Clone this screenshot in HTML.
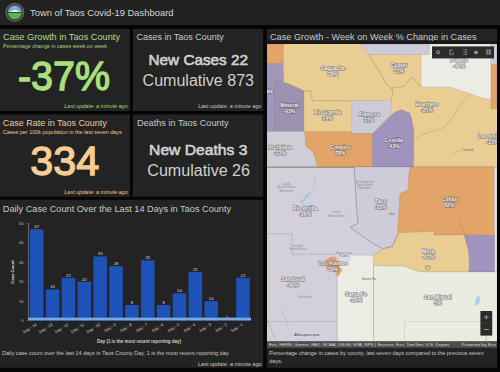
<!DOCTYPE html>
<html><head><meta charset="utf-8">
<style>
html,body{margin:0;padding:0;background:#000;width:500px;height:372px;overflow:hidden}
svg{display:block}
text{font-family:"Liberation Sans",sans-serif}
</style></head><body>
<svg width="500" height="372" viewBox="0 0 500 372">
<rect x="0" y="0" width="500" height="372" fill="#050505"/>
<!-- header -->
<rect x="0" y="0" width="500" height="25" fill="#222222"/>
<circle cx="14.8" cy="12.4" r="9.4" fill="#7e786c"/>
<circle cx="14.8" cy="12.4" r="8.7" fill="#4a4640"/>
<circle cx="14.8" cy="12.4" r="7.3" fill="#2a3a6a"/>
<clipPath id="lg"><circle cx="14.8" cy="12.4" r="6.8"/></clipPath>
<g clip-path="url(#lg)">
<rect x="6" y="4" width="18" height="9" fill="#78a6dc"/>
<path d="M9.5,12.2 L12.5,10.3 L14.8,9.5 L17.1,10.3 L20.1,12.2 Z" fill="#e6ecef"/>
<rect x="6" y="12" width="18" height="1" fill="#2e4a34"/>
<rect x="6" y="13" width="18" height="8" fill="#58b34c"/>
<circle cx="14.8" cy="7.4" r="0.9" fill="#9fd27a"/>
</g>
<text x="30" y="15.7" font-size="9.8" fill="#d4d4d4" textLength="143.5" lengthAdjust="spacingAndGlyphs">Town of Taos Covid-19 Dashboard</text>

<!-- panels -->
<rect x="0" y="29" width="130" height="82" fill="#232323"/>
<rect x="132.8" y="29" width="130.4" height="82" fill="#232323"/>
<rect x="0" y="114.4" width="130" height="82.4" fill="#232323"/>
<rect x="132.8" y="114.4" width="130.4" height="82.4" fill="#232323"/>
<rect x="0" y="199.8" width="263.2" height="168" fill="#232323"/>
<rect x="266.8" y="29" width="230.2" height="338.8" fill="#232323"/>

<!-- panel A -->
<text x="3" y="40" font-size="9.8" fill="#b0d994" textLength="117" lengthAdjust="spacingAndGlyphs">Case Growth in Taos County</text>
<text x="3" y="47.8" font-size="5.6" fill="#a5d97c" textLength="104" lengthAdjust="spacingAndGlyphs">Percentage change in cases week on week</text>
<text x="18" y="89.9" font-size="40" fill="#a8e07c" stroke="#a8e07c" stroke-width="1.3" textLength="92" lengthAdjust="spacingAndGlyphs">-37%</text>
<text x="64.3" y="108" font-size="5.5" font-style="italic" fill="#a5d97c" textLength="63.4" lengthAdjust="spacingAndGlyphs">Last update: a minute ago</text>

<!-- panel B -->
<text x="136.4" y="40" font-size="9.7" fill="#c8c8c8" textLength="87.4" lengthAdjust="spacingAndGlyphs">Cases in Taos County</text>
<text x="148.6" y="65" font-size="15.2" fill="#d2d2d2" stroke="#d2d2d2" stroke-width="0.6" textLength="99.3" lengthAdjust="spacingAndGlyphs">New Cases 22</text>
<text x="142.6" y="86" font-size="16" fill="#cfcfcf" textLength="111.4" lengthAdjust="spacingAndGlyphs">Cumulative 873</text>
<text x="198.3" y="107.5" font-size="5.5" fill="#c8c8c8" textLength="63" lengthAdjust="spacingAndGlyphs">Last update: a minute ago</text>

<!-- panel C -->
<text x="2.8" y="126.1" font-size="9.7" fill="#f4c993" textLength="104" lengthAdjust="spacingAndGlyphs">Case Rate in Taos County</text>
<text x="2.8" y="134" font-size="5.6" fill="#f5c58c" textLength="119" lengthAdjust="spacingAndGlyphs">Cases per 100k population in the last seven days</text>
<text x="30.2" y="175.3" font-size="41.5" fill="#f7cd93" stroke="#f7cd93" stroke-width="1.3" textLength="69" lengthAdjust="spacingAndGlyphs">334</text>
<text x="64.3" y="193.7" font-size="5.5" font-style="italic" fill="#f5c58c" textLength="63.4" lengthAdjust="spacingAndGlyphs">Last update: a minute ago</text>

<!-- panel D -->
<text x="136.9" y="125.9" font-size="9.7" fill="#c8c8c8" textLength="91.8" lengthAdjust="spacingAndGlyphs">Deaths in Taos County</text>
<text x="149.1" y="155.1" font-size="15.2" fill="#d2d2d2" stroke="#d2d2d2" stroke-width="0.6" textLength="98.3" lengthAdjust="spacingAndGlyphs">New Deaths 3</text>
<text x="147.3" y="176.2" font-size="16" fill="#cfcfcf" textLength="102.7" lengthAdjust="spacingAndGlyphs">Cumulative 26</text>

<!-- chart panel -->
<text x="2.8" y="211.8" font-size="9.7" fill="#c8c8c8" textLength="228.3" lengthAdjust="spacingAndGlyphs">Daily Case Count Over the Last 14 Days in Taos County</text>
<g id="chart"><g stroke="#282828" stroke-width="0.6">
<line x1="29.0" y1="223.5" x2="29.0" y2="317"/>
<line x1="44.9" y1="223.5" x2="44.9" y2="317"/>
<line x1="60.7" y1="223.5" x2="60.7" y2="317"/>
<line x1="76.6" y1="223.5" x2="76.6" y2="317"/>
<line x1="92.4" y1="223.5" x2="92.4" y2="317"/>
<line x1="108.3" y1="223.5" x2="108.3" y2="317"/>
<line x1="124.2" y1="223.5" x2="124.2" y2="317"/>
<line x1="140.0" y1="223.5" x2="140.0" y2="317"/>
<line x1="155.9" y1="223.5" x2="155.9" y2="317"/>
<line x1="171.7" y1="223.5" x2="171.7" y2="317"/>
<line x1="187.6" y1="223.5" x2="187.6" y2="317"/>
<line x1="203.5" y1="223.5" x2="203.5" y2="317"/>
<line x1="219.3" y1="223.5" x2="219.3" y2="317"/>
<line x1="235.2" y1="223.5" x2="235.2" y2="317"/>
<line x1="251.0" y1="223.5" x2="251.0" y2="317"/>
</g>
<rect x="30.00" y="229.32" width="13.5" height="91.18" fill="#1d53b8"/>
<text x="36.75" y="228.12" font-size="4.3" fill="#dddddd" text-anchor="middle">47</text>
<text x="0" y="0" font-size="4" fill="#d4d4d4" text-anchor="end" transform="translate(36.95,325.30) rotate(-33)">Day - 14</text>
<rect x="45.86" y="289.46" width="13.5" height="31.04" fill="#1d53b8"/>
<text x="52.61" y="288.26" font-size="4.3" fill="#dddddd" text-anchor="middle">16</text>
<text x="0" y="0" font-size="4" fill="#d4d4d4" text-anchor="end" transform="translate(52.81,325.30) rotate(-33)">Day - 13</text>
<rect x="61.72" y="277.82" width="13.5" height="42.68" fill="#1d53b8"/>
<text x="68.47" y="276.62" font-size="4.3" fill="#dddddd" text-anchor="middle">22</text>
<text x="0" y="0" font-size="4" fill="#d4d4d4" text-anchor="end" transform="translate(68.67,325.30) rotate(-33)">Day - 12</text>
<rect x="77.58" y="281.70" width="13.5" height="38.80" fill="#1d53b8"/>
<text x="84.33" y="280.50" font-size="4.3" fill="#dddddd" text-anchor="middle">20</text>
<text x="0" y="0" font-size="4" fill="#d4d4d4" text-anchor="end" transform="translate(84.53,325.30) rotate(-33)">Day - 11</text>
<rect x="93.44" y="256.48" width="13.5" height="64.02" fill="#1d53b8"/>
<text x="100.19" y="255.28" font-size="4.3" fill="#dddddd" text-anchor="middle">33</text>
<text x="0" y="0" font-size="4" fill="#d4d4d4" text-anchor="end" transform="translate(100.39,325.30) rotate(-33)">Day - 10</text>
<rect x="109.30" y="266.18" width="13.5" height="54.32" fill="#1d53b8"/>
<text x="116.05" y="264.98" font-size="4.3" fill="#dddddd" text-anchor="middle">28</text>
<text x="0" y="0" font-size="4" fill="#d4d4d4" text-anchor="end" transform="translate(116.25,325.30) rotate(-33)">Day - 9</text>
<rect x="125.16" y="304.98" width="13.5" height="15.52" fill="#1d53b8"/>
<text x="131.91" y="303.78" font-size="4.3" fill="#dddddd" text-anchor="middle">8</text>
<text x="0" y="0" font-size="4" fill="#d4d4d4" text-anchor="end" transform="translate(132.11,325.30) rotate(-33)">Day - 8</text>
<rect x="141.02" y="260.36" width="13.5" height="60.14" fill="#1d53b8"/>
<text x="147.77" y="259.16" font-size="4.3" fill="#dddddd" text-anchor="middle">31</text>
<text x="0" y="0" font-size="4" fill="#d4d4d4" text-anchor="end" transform="translate(147.97,325.30) rotate(-33)">Day - 7</text>
<rect x="156.88" y="304.98" width="13.5" height="15.52" fill="#1d53b8"/>
<text x="163.63" y="303.78" font-size="4.3" fill="#dddddd" text-anchor="middle">8</text>
<text x="0" y="0" font-size="4" fill="#d4d4d4" text-anchor="end" transform="translate(163.83,325.30) rotate(-33)">Day - 6</text>
<rect x="172.74" y="293.34" width="13.5" height="27.16" fill="#1d53b8"/>
<text x="179.49" y="292.14" font-size="4.3" fill="#dddddd" text-anchor="middle">14</text>
<text x="0" y="0" font-size="4" fill="#d4d4d4" text-anchor="end" transform="translate(179.69,325.30) rotate(-33)">Day - 5</text>
<rect x="188.60" y="272.00" width="13.5" height="48.50" fill="#1d53b8"/>
<text x="195.35" y="270.80" font-size="4.3" fill="#dddddd" text-anchor="middle">25</text>
<text x="0" y="0" font-size="4" fill="#d4d4d4" text-anchor="end" transform="translate(195.55,325.30) rotate(-33)">Day - 4</text>
<rect x="204.46" y="301.10" width="13.5" height="19.40" fill="#1d53b8"/>
<text x="211.21" y="299.90" font-size="4.3" fill="#dddddd" text-anchor="middle">10</text>
<text x="0" y="0" font-size="4" fill="#d4d4d4" text-anchor="end" transform="translate(211.41,325.30) rotate(-33)">Day - 3</text>
<text x="227.07" y="319.30" font-size="4.3" fill="#dddddd" text-anchor="middle">0</text>
<text x="0" y="0" font-size="4" fill="#d4d4d4" text-anchor="end" transform="translate(227.27,325.30) rotate(-33)">Day - 2</text>
<rect x="236.18" y="277.82" width="13.5" height="42.68" fill="#1d53b8"/>
<text x="242.93" y="276.62" font-size="4.3" fill="#dddddd" text-anchor="middle">22</text>
<text x="0" y="0" font-size="4" fill="#d4d4d4" text-anchor="end" transform="translate(243.13,325.30) rotate(-33)">Day - 1</text>
<rect x="28" y="317.6" width="223" height="2.9" fill="#6d9be0"/>
<line x1="28" y1="319" x2="251" y2="319" stroke="#b7cdf0" stroke-width="1" stroke-dasharray="1 1.2"/>
<line x1="28.6" y1="223.3" x2="28.6" y2="320.5" stroke="#a09c90" stroke-width="0.6"/>
<text x="23.5" y="321.90" font-size="4" fill="#c4c4c4" text-anchor="end">0</text>
<line x1="25.8" y1="320.50" x2="28.6" y2="320.50" stroke="#6a6862" stroke-width="0.5"/>
<text x="23.5" y="302.50" font-size="4" fill="#c4c4c4" text-anchor="end">10</text>
<line x1="25.8" y1="301.10" x2="28.6" y2="301.10" stroke="#6a6862" stroke-width="0.5"/>
<text x="23.5" y="283.10" font-size="4" fill="#c4c4c4" text-anchor="end">20</text>
<line x1="25.8" y1="281.70" x2="28.6" y2="281.70" stroke="#6a6862" stroke-width="0.5"/>
<text x="23.5" y="263.70" font-size="4" fill="#c4c4c4" text-anchor="end">30</text>
<line x1="25.8" y1="262.30" x2="28.6" y2="262.30" stroke="#6a6862" stroke-width="0.5"/>
<text x="23.5" y="244.30" font-size="4" fill="#c4c4c4" text-anchor="end">40</text>
<line x1="25.8" y1="242.90" x2="28.6" y2="242.90" stroke="#6a6862" stroke-width="0.5"/>
<text x="23.5" y="224.90" font-size="4" fill="#c4c4c4" text-anchor="end">50</text>
<line x1="25.8" y1="223.50" x2="28.6" y2="223.50" stroke="#6a6862" stroke-width="0.5"/>
<text x="0" y="0" font-size="4.2" font-weight="bold" fill="#e0e0e0" text-anchor="middle" transform="translate(14.3,272) rotate(-90)">Case Count</text>
<text x="97" y="343" font-size="4.46" font-weight="bold" fill="#d0d0d0" textLength="84" lengthAdjust="spacingAndGlyphs">Day (1 is the most recent reporting day)</text></g>
<text x="2" y="354.5" font-size="5.5" fill="#c8c8c8" textLength="227.6" lengthAdjust="spacingAndGlyphs">Daily case count over the last 14 days in Taos County Day, 1 is the most recent reporting day.</text>
<text x="198" y="365.9" font-size="5.5" fill="#c8c8c8" textLength="63.8" lengthAdjust="spacingAndGlyphs">Last update: a minute ago</text>

<!-- map panel -->
<text x="270" y="40" font-size="9.7" fill="#c8c8c8" textLength="206.5" lengthAdjust="spacingAndGlyphs">Case Growth - Week on Week % Change in Cases</text>
<rect x="266.8" y="41" width="230.2" height="3" fill="#181818"/>
<clipPath id="mc"><rect x="267" y="44" width="230" height="297.5"/></clipPath>
<g clip-path="url(#mc)">
<rect x="267" y="44" width="230" height="298" fill="#d4d0db"/>
<rect x="267" y="44" width="230" height="123.4" fill="#e9cd92"/>
<polygon points="267,44 283.3,44 283.3,63.5 267,63.5" fill="#e3a468" stroke="#6e6866" stroke-width="0.35" stroke-opacity="0.45"/>
<polygon points="267,63.5 283.3,63.5 283.7,81.5 274,82.3 274,131.5 267,131.5" fill="#a398bb" stroke="#6e6866" stroke-width="0.35" stroke-opacity="0.45"/>
<polygon points="274,82.3 279.7,80.6 283.7,82.3 291,84.7 298.2,87.9 303.9,91.1 303.9,131.5 274,131.5" fill="#9a92b0" stroke="#6e6866" stroke-width="0.35" stroke-opacity="0.45"/>
<polygon points="360.7,44 429.2,44 429.2,54.5 368.8,54.5" fill="#cdcbd8" stroke="#6e6866" stroke-width="0.35" stroke-opacity="0.45"/>
<polygon points="429.2,44 491,44 491,100 478.2,96.8 469.6,93.6 460,90.4 450.3,87.2 427.7,87.2 421.1,86.8 421.1,54.5 429.2,54.5" fill="#ecece4" stroke="#6e6866" stroke-width="0.35" stroke-opacity="0.45"/>
<polygon points="491,44 497,44 497,64.6 491,64.6" fill="#cdcbd8" stroke="#6e6866" stroke-width="0.35" stroke-opacity="0.45"/>
<polygon points="491,64.6 497,64.6 497,108.7 491,108.7" fill="#e3a468" stroke="#6e6866" stroke-width="0.35" stroke-opacity="0.45"/>
<polygon points="351.8,100.5 391,100.5 391,114 372.8,133.5 351.8,133.5" fill="#cdcbd8" stroke="#6e6866" stroke-width="0.35" stroke-opacity="0.45"/>
<polygon points="267,131.5 305.9,131.5 305.9,146 313.4,152.4 317.7,166.7 267,166.7" fill="#cfced8" stroke="#6e6866" stroke-width="0.35" stroke-opacity="0.45"/>
<polygon points="304.5,131.5 351.8,131.5 351.8,133.5 372.8,133.5 372.3,166.7 317.7,166.7 313.4,152.4 305.9,146 304.5,131.5" fill="#e3a468" stroke="#6e6866" stroke-width="0.35" stroke-opacity="0.45"/>
<polygon points="372.3,134 392.3,114.2 396.3,111.5 401.7,109.5 405.8,111.5 409.8,112.9 411.8,119.6 413.8,130.4 413.6,167 372.3,167" fill="#a093bd" stroke="#6e6866" stroke-width="0.35" stroke-opacity="0.45"/>
<polyline points="368.8,54.5 378.7,70 386,84 391.6,88.2 393,93 391,100.5" fill="none" stroke="#7a7060" stroke-width="0.45" stroke-opacity="0.8"/>
<polyline points="391.6,88.2 404.5,86 409,80 412.3,77 416.3,82 421.1,86.8" fill="none" stroke="#7a7060" stroke-width="0.45" stroke-opacity="0.8"/>
<polyline points="303.9,91.1 310.3,91.1 312.7,100.8 351.8,100.8" fill="none" stroke="#7a7060" stroke-width="0.45" stroke-opacity="0.8"/>
<polyline points="267,167.3 497,167.3" fill="none" stroke="#6e6c6c" stroke-width="1.1" stroke-opacity="0.75"/>
<polyline points="469.6,93.6 460,105 452.4,118 443.8,127.7 426.6,133 418,137.4 414,139" fill="none" stroke="#8a7050" stroke-width="0.4" stroke-opacity="0.6"/>
<polyline points="450,155.6 461,150" fill="none" stroke="#8a7050" stroke-width="0.4" stroke-opacity="0.6"/>
<polygon points="354.2,167 410.2,167 410.2,168.4 408.8,175.2 408.1,190 403.4,192 400,194 399.4,205 398.5,215 398.4,233.2 392.4,246.4 382.8,248.8 372,242.8 360,234.4 350.4,227.2 358.2,223.2 356.9,213.8 355.5,189.6" fill="#cfccd9" stroke="#6e6866" stroke-width="0.35" stroke-opacity="0.45"/>
<polygon points="410.2,167 494.5,167 494.5,235.5 464.2,235 434,235 434,231.6 397.6,232.7 398.5,215 399.4,205 400,194 403.4,192 408.1,190 408.8,175.2 410.2,168.4" fill="#e3a468" stroke="#6e6866" stroke-width="0.35" stroke-opacity="0.45"/>
<polygon points="398.4,232.7 434,231.6 434,235 464.2,235 468.5,250 469.6,265 468.5,272 436,272 420,272 404,266.2 373.6,265.6 373.4,255.2 382.8,248.8 392.4,246.4" fill="#e9cd92" stroke="#6e6866" stroke-width="0.35" stroke-opacity="0.45"/>
<polygon points="494.5,167 497,167 497,272 494.5,272" fill="#e4e4e2" stroke="#6e6866" stroke-width="0.35" stroke-opacity="0.45"/>
<polygon points="464.2,235 494.5,235.5 494.5,272 468.5,272 469.6,265 468.5,250" fill="#a093bd" stroke="#6e6866" stroke-width="0.35" stroke-opacity="0.45"/>
<polygon points="337.2,255 373.4,255.2 373.6,265.6 373.6,341.5 337.2,341.5" fill="#ecece4" stroke="#6e6866" stroke-width="0.35" stroke-opacity="0.45"/>
<polygon points="373.6,265.6 404,266.2 420,272 497,272 497,341.5 373.6,341.5" fill="#e9ecdf" stroke="#6e6866" stroke-width="0.35" stroke-opacity="0.45"/>
<polygon points="325.5,260 331,257 338.5,257.5 340.5,262 339,266 342,270 338,276.4 335,272 329,269.5 325,266" fill="#e3a468" stroke="#6e6866" stroke-width="0.35" stroke-opacity="0.45"/>
<polyline points="267,233.8 291.9,233.8 291.9,254.2 345,254.2" fill="none" stroke="#8a8a96" stroke-width="0.5" stroke-opacity="0.7"/>
<polyline points="267,321.6 336,321.6" fill="none" stroke="#8a8a96" stroke-width="0.5" stroke-opacity="0.7"/>
<polyline points="267,319.5 275.7,338.8" fill="none" stroke="#8a8a96" stroke-width="0.5" stroke-opacity="0.7"/>
<polyline points="373.6,266 373.6,336.7" fill="none" stroke="#9a9aa0" stroke-width="0.4" stroke-opacity="0.7"/>
<polyline points="337.2,256 337.2,341" fill="none" stroke="#9a9aa0" stroke-width="0.4" stroke-opacity="0.6"/>
<polyline points="404.5,341 404.5,321.6 480,321.6" fill="none" stroke="#9a9aa0" stroke-width="0.4" stroke-opacity="0.6"/>
<polyline points="354.2,167 355.5,189.6 356.9,213.8 358.2,223.2 350.4,227.2 360,234.4 372,242.8 382.8,248.8 392.4,246.4 398.4,233.2" fill="none" stroke="#6a6a7a" stroke-width="0.45" stroke-opacity="0.8"/>
<polyline points="459,220 464.2,235" fill="none" stroke="#9a6a50" stroke-width="0.5" stroke-opacity="0.6"/>
<path d="M425.5,266 h4.4 v3 q-2.2,2.4 -4.4,0 z" fill="#d8cbb0" stroke="#7a6a58" stroke-width="0.5"/>
<polyline points="486.3,336 486.3,341" fill="none" stroke="#6a6a6a" stroke-width="0.4" stroke-opacity="0.8"/>
<path d="M281,309 L284,315 L287.5,321 L288.5,324 L287.5,324.5 L284.5,318 L280.5,310 Z" fill="#a6c6e0"/>
<path d="M315.4,174.7 L314.6,182 L313.8,189.2" fill="none" stroke="#9cc4e4" stroke-width="0.9"/>
<path d="M310.5,191.5 L306,196 L300.5,202.5 L301.5,203 L307,197.5 L311,193 Z" fill="#9cc4e4" stroke="#9cc4e4" stroke-width="0.6"/>
<text x="286.3" y="185.2" font-size="2.6" text-anchor="middle" fill="#8a8a96">Jicarilla</text>
<text x="286.3" y="188.4" font-size="2.6" text-anchor="middle" fill="#8a8a96">Apache Nation</text>
<text x="286.3" y="191.6" font-size="2.6" text-anchor="middle" fill="#8a8a96">Reservation</text>
<path d="M476,298 l3,-3 l1,4 l-1,5 l-4,2 z" fill="#a8d0e8"/>
<text x="364.7" y="182.5" font-size="2.6" text-anchor="middle" fill="#8a8a96">Rio Grande del</text>
<text x="364.7" y="185.7" font-size="2.6" text-anchor="middle" fill="#8a8a96">Norte National</text>
<text x="364.7" y="188.9" font-size="2.6" text-anchor="middle" fill="#8a8a96">Monument</text>
<text x="336.5" y="213.2" font-size="2.6" text-anchor="middle" fill="#8a8a96">Carson</text>
<text x="336.5" y="216.6" font-size="2.6" text-anchor="middle" fill="#8a8a96">National Forest</text>
<text x="298" y="247" font-size="2.6" text-anchor="middle" fill="#8a8a96">Santa Fe</text>
<text x="298" y="250.2" font-size="2.6" text-anchor="middle" fill="#8a8a96">National Forest</text>
<text x="304.8" y="297.5" font-size="2.6" text-anchor="middle" fill="#8a8a96">Los Pueblos</text>
<rect x="336.5" y="250.5" width="14.5" height="10.5" fill="#d8d6e0" opacity="0.8"/>
<text x="343.7" y="254" font-size="3.0" text-anchor="middle" fill="#7a7a88">Santa Clara</text>
<text x="343.7" y="257.4" font-size="3.0" text-anchor="middle" fill="#7a7a88">Pueblo</text>
<text x="369" y="279.8" font-size="3.6" text-anchor="middle" fill="#6a6a6a">Santa Fe</text>
<text x="391.8" y="214.6" font-size="3.0" text-anchor="middle" fill="#707070">Taos</text>
<text x="467.5" y="150.8" font-size="3.2" text-anchor="middle" fill="#707070">Trinidad</text>
<text x="307" y="335.5" font-size="4.2" font-weight="bold" text-anchor="middle" fill="#5a5a60" stroke="#f0f0f0" stroke-width="0.6" paint-order="stroke" stroke-opacity="0.7">Albuquerque</text>
<text x="282" y="335" font-size="3" text-anchor="middle" fill="#8a8a96"></text>
<text x="262.4" y="92.9" font-size="5.2" font-weight="bold" text-anchor="middle" fill="#f8f8f8" stroke="#4a4a52" stroke-width="1.2" paint-order="stroke" stroke-opacity="0.7">Hinsdale</text>
<text x="262.4" y="98.9" font-size="5.2" font-weight="bold" text-anchor="middle" fill="#f8f8f8" stroke="#4a4a52" stroke-width="1.2" paint-order="stroke" stroke-opacity="0.7">-7%</text>
<text x="289.4" y="106.6" font-size="5.2" font-weight="bold" text-anchor="middle" fill="#f8f8f8" stroke="#4a4a52" stroke-width="1.2" paint-order="stroke" stroke-opacity="0.7">Mineral</text>
<text x="289.4" y="112.6" font-size="5.2" font-weight="bold" text-anchor="middle" fill="#f8f8f8" stroke="#4a4a52" stroke-width="1.2" paint-order="stroke" stroke-opacity="0.7">-93%</text>
<text x="333" y="69.8" font-size="5.2" font-weight="bold" text-anchor="middle" fill="#f8f8f8" stroke="#4a4a52" stroke-width="1.2" paint-order="stroke" stroke-opacity="0.7">Saguache</text>
<text x="333" y="75.8" font-size="5.2" font-weight="bold" text-anchor="middle" fill="#f8f8f8" stroke="#4a4a52" stroke-width="1.2" paint-order="stroke" stroke-opacity="0.7">38%</text>
<text x="327.5" y="114.4" font-size="5.2" font-weight="bold" text-anchor="middle" fill="#f8f8f8" stroke="#4a4a52" stroke-width="1.2" paint-order="stroke" stroke-opacity="0.7">Rio Grande</text>
<text x="327.5" y="120.4" font-size="5.2" font-weight="bold" text-anchor="middle" fill="#f8f8f8" stroke="#4a4a52" stroke-width="1.2" paint-order="stroke" stroke-opacity="0.7">14%</text>
<text x="369" y="115.6" font-size="5.2" font-weight="bold" text-anchor="middle" fill="#f8f8f8" stroke="#4a4a52" stroke-width="1.2" paint-order="stroke" stroke-opacity="0.7">Alamosa</text>
<text x="369" y="121.6" font-size="5.2" font-weight="bold" text-anchor="middle" fill="#f8f8f8" stroke="#4a4a52" stroke-width="1.2" paint-order="stroke" stroke-opacity="0.7">17%</text>
<text x="399" y="67.4" font-size="5.2" font-weight="bold" text-anchor="middle" fill="#f8f8f8" stroke="#4a4a52" stroke-width="1.2" paint-order="stroke" stroke-opacity="0.7">Custer</text>
<text x="399" y="73.4" font-size="5.2" font-weight="bold" text-anchor="middle" fill="#f8f8f8" stroke="#4a4a52" stroke-width="1.2" paint-order="stroke" stroke-opacity="0.7">31%</text>
<text x="459" y="62.4" font-size="5.2" font-weight="bold" text-anchor="middle" fill="#f8f8f8" stroke="#4a4a52" stroke-width="1.2" paint-order="stroke" stroke-opacity="0.7">Pueblo</text>
<text x="459" y="68.4" font-size="5.2" font-weight="bold" text-anchor="middle" fill="#f8f8f8" stroke="#4a4a52" stroke-width="1.2" paint-order="stroke" stroke-opacity="0.7">-40%</text>
<text x="427" y="105.6" font-size="5.2" font-weight="bold" text-anchor="middle" fill="#f8f8f8" stroke="#4a4a52" stroke-width="1.2" paint-order="stroke" stroke-opacity="0.7">Huerfano</text>
<text x="427" y="111.6" font-size="5.2" font-weight="bold" text-anchor="middle" fill="#f8f8f8" stroke="#4a4a52" stroke-width="1.2" paint-order="stroke" stroke-opacity="0.7">-25%</text>
<text x="340.4" y="148.6" font-size="5.2" font-weight="bold" text-anchor="middle" fill="#f8f8f8" stroke="#4a4a52" stroke-width="1.2" paint-order="stroke" stroke-opacity="0.7">Conejos</text>
<text x="340.4" y="154.6" font-size="5.2" font-weight="bold" text-anchor="middle" fill="#f8f8f8" stroke="#4a4a52" stroke-width="1.2" paint-order="stroke" stroke-opacity="0.7">78%</text>
<text x="280" y="148.8" font-size="5.2" font-weight="bold" text-anchor="middle" fill="#f8f8f8" stroke="#4a4a52" stroke-width="1.2" paint-order="stroke" stroke-opacity="0.7">Archuleta</text>
<text x="280" y="154.8" font-size="5.2" font-weight="bold" text-anchor="middle" fill="#f8f8f8" stroke="#4a4a52" stroke-width="1.2" paint-order="stroke" stroke-opacity="0.7">-23%</text>
<text x="393.6" y="141.8" font-size="5.2" font-weight="bold" text-anchor="middle" fill="#f8f8f8" stroke="#4a4a52" stroke-width="1.2" paint-order="stroke" stroke-opacity="0.7">Costilla</text>
<text x="393.6" y="147.8" font-size="5.2" font-weight="bold" text-anchor="middle" fill="#f8f8f8" stroke="#4a4a52" stroke-width="1.2" paint-order="stroke" stroke-opacity="0.7">-43%</text>
<text x="492.5" y="138.3" font-size="5.2" font-weight="bold" text-anchor="middle" fill="#f8f8f8" stroke="#4a4a52" stroke-width="1.2" paint-order="stroke" stroke-opacity="0.7">Las Animas</text>
<text x="492.5" y="144.3" font-size="5.2" font-weight="bold" text-anchor="middle" fill="#f8f8f8" stroke="#4a4a52" stroke-width="1.2" paint-order="stroke" stroke-opacity="0.7">-23%</text>
<text x="449.4" y="201.2" font-size="5.2" font-weight="bold" text-anchor="middle" fill="#f8f8f8" stroke="#4a4a52" stroke-width="1.2" paint-order="stroke" stroke-opacity="0.7">Colfax</text>
<text x="449.4" y="207.2" font-size="5.2" font-weight="bold" text-anchor="middle" fill="#f8f8f8" stroke="#4a4a52" stroke-width="1.2" paint-order="stroke" stroke-opacity="0.7">62%</text>
<text x="305.3" y="210.3" font-size="5.2" font-weight="bold" text-anchor="middle" fill="#f8f8f8" stroke="#4a4a52" stroke-width="1.2" paint-order="stroke" stroke-opacity="0.7">Rio Arriba</text>
<text x="305.3" y="216.3" font-size="5.2" font-weight="bold" text-anchor="middle" fill="#f8f8f8" stroke="#4a4a52" stroke-width="1.2" paint-order="stroke" stroke-opacity="0.7">-26%</text>
<text x="380.8" y="203.4" font-size="5.2" font-weight="bold" text-anchor="middle" fill="#f8f8f8" stroke="#4a4a52" stroke-width="1.2" paint-order="stroke" stroke-opacity="0.7">Taos</text>
<text x="380.8" y="209.4" font-size="5.2" font-weight="bold" text-anchor="middle" fill="#f8f8f8" stroke="#4a4a52" stroke-width="1.2" paint-order="stroke" stroke-opacity="0.7">-22%</text>
<text x="428.5" y="253.2" font-size="5.2" font-weight="bold" text-anchor="middle" fill="#f8f8f8" stroke="#4a4a52" stroke-width="1.2" paint-order="stroke" stroke-opacity="0.7">Mora</text>
<text x="428.5" y="259.2" font-size="5.2" font-weight="bold" text-anchor="middle" fill="#f8f8f8" stroke="#4a4a52" stroke-width="1.2" paint-order="stroke" stroke-opacity="0.7">-67%</text>
<text x="333" y="265.4" font-size="5.2" font-weight="bold" text-anchor="middle" fill="#f8f8f8" stroke="#4a4a52" stroke-width="1.2" paint-order="stroke" stroke-opacity="0.7">Los Alamos</text>
<text x="333" y="271.4" font-size="5.2" font-weight="bold" text-anchor="middle" fill="#f8f8f8" stroke="#4a4a52" stroke-width="1.2" paint-order="stroke" stroke-opacity="0.7">39%</text>
<text x="292.8" y="281" font-size="5.2" font-weight="bold" text-anchor="middle" fill="#f8f8f8" stroke="#4a4a52" stroke-width="1.2" paint-order="stroke" stroke-opacity="0.7">Sandoval</text>
<text x="292.8" y="287" font-size="5.2" font-weight="bold" text-anchor="middle" fill="#f8f8f8" stroke="#4a4a52" stroke-width="1.2" paint-order="stroke" stroke-opacity="0.7">-40%</text>
<text x="356" y="296.2" font-size="5.2" font-weight="bold" text-anchor="middle" fill="#f8f8f8" stroke="#4a4a52" stroke-width="1.2" paint-order="stroke" stroke-opacity="0.7">Santa Fe</text>
<text x="356" y="302.2" font-size="5.2" font-weight="bold" text-anchor="middle" fill="#f8f8f8" stroke="#4a4a52" stroke-width="1.2" paint-order="stroke" stroke-opacity="0.7">-26%</text>
<text x="437.8" y="298.5" font-size="5.2" font-weight="bold" text-anchor="middle" fill="#f8f8f8" stroke="#4a4a52" stroke-width="1.2" paint-order="stroke" stroke-opacity="0.7">San Miguel</text>
<text x="437.8" y="304.5" font-size="5.2" font-weight="bold" text-anchor="middle" fill="#f8f8f8" stroke="#4a4a52" stroke-width="1.2" paint-order="stroke" stroke-opacity="0.7">5%</text>
</g>
<rect x="432" y="46.4" width="62" height="12" fill="#2b2b2b"/>
<circle cx="438" cy="52.2" r="1.5" fill="none" stroke="#d8d8d8" stroke-width="0.6"/><line x1="439.1" y1="53.3" x2="440.3" y2="54.5" stroke="#d8d8d8" stroke-width="0.6"/>
<path d="M452.6,50 h-2.6 v4.6 h1 M451.6,54.6 h1.2 l0.6,-0.8 v-1.6" fill="none" stroke="#d8d8d8" stroke-width="0.6"/>
<path d="M462.8,50 h0.6 M462.8,52.2 h0.6 M462.8,54.4 h0.6 M464.4,50 h2.6 M464.4,52.2 h2.6 M464.4,54.4 h2.6" stroke="#d8d8d8" stroke-width="0.6"/>
<circle cx="476" cy="52.2" r="1.8" fill="#a8a8a8"/><path d="M474.8,51.5 q1.2,-0.8 2.4,0" fill="none" stroke="#2b2b2b" stroke-width="0.4"/>
<path d="M486.5,49.8 h1.6 v1.6 h-1.6 z M489,49.8 h1.6 v1.6 h-1.6 z M486.5,52.6 h1.6 v1.6 h-1.6 z M489,52.6 h1.6 v1.6 h-1.6 z" fill="none" stroke="#d8d8d8" stroke-width="0.5"/>
<rect x="480.4" y="311" width="11.8" height="24.6" fill="#2b2b2b"/>
<line x1="481.4" y1="323.3" x2="491.2" y2="323.3" stroke="#555" stroke-width="0.5"/>
<path d="M483.8,317.2 h5 M486.3,314.7 v5 M483.8,329.5 h5" stroke="#d8d8d8" stroke-width="0.6"/>
<rect x="267" y="341.4" width="230" height="6.5" fill="#4e4e4e"/>
<text x="269" y="346.3" font-size="3.7" fill="#dcdcdc" textLength="180" lengthAdjust="spacingAndGlyphs">Esri, HERE, Garmin, FAO, NOAA, USGS, EPA, NPS | Sources: Esri, TomTom, U.S. Depart</text>
<text x="461.6" y="346.3" font-size="3.7" fill="#dcdcdc" textLength="34.5" lengthAdjust="spacingAndGlyphs">Powered by Esri</text>
<text x="269.3" y="355.2" font-size="5.5" fill="#c8c8c8" textLength="214.4" lengthAdjust="spacingAndGlyphs">Percentage change in cases by county, last seven days compared to the previous seven</text>
<text x="269.3" y="363.3" font-size="5.5" fill="#c8c8c8">days.</text>
</svg>
</body></html>
